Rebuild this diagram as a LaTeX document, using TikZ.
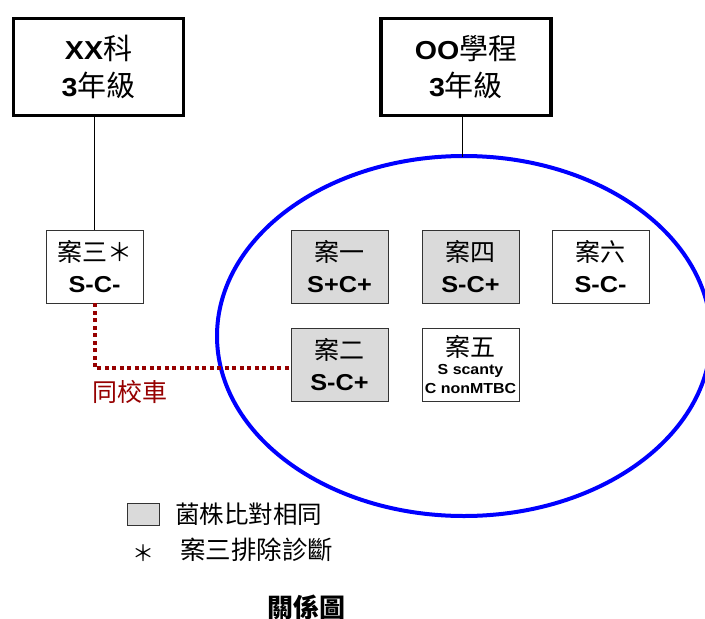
\documentclass[tikz,border=0pt]{standalone}
\usepackage{fontspec}
\setmainfont{Liberation Sans}[FakeStretch=1.1]
\newfontfamily\cjk{Noto Sans CJK TC}
\definecolor{stip}{RGB}{218,218,218}
\definecolor{darkred}{RGB}{150,0,0}
\begin{document}
\begin{tikzpicture}[x=1pt,y=-1pt,
  topbox/.style={draw, line width=3.5pt, minimum width=170pt, minimum height=97pt, inner sep=0pt, align=center, font=\fontsize{26}{37}\selectfont\bfseries},
  casebox/.style={draw=black!80, line width=0.8pt, minimum width=97pt, minimum height=73pt, inner sep=0pt, align=center, font=\fontsize{23}{31}\selectfont\bfseries},
  shaded/.style={casebox, fill=stip}
]
\useasboundingbox (0,0) rectangle (705,619);
\node[topbox] (xx) at (98.5,67) {XX{\cjk\mdseries\fontsize{29}{37}\selectfont 科}\\3{\cjk\mdseries\fontsize{29}{37}\selectfont 年級}};
\node[topbox] (oo) at (466,67) {OO{\cjk\mdseries\fontsize{29}{37}\selectfont 學程}\\3{\cjk\mdseries\fontsize{29}{37}\selectfont 年級}};
\draw[blue, line width=4pt] (464,336) ellipse [x radius=247, y radius=180];
\coordinate (etop) at (462,157);
\node[casebox] (c3) at (94.5,266.5) {{\cjk\mdseries\fontsize{25}{31}\selectfont 案三＊}\\S-C-};
\node[shaded] (c1) at (339.5,266.5) {{\cjk\mdseries\fontsize{25}{31}\selectfont 案一}\\S+C+};
\node[shaded] (c4) at (470.5,266.5) {{\cjk\mdseries\fontsize{25}{31}\selectfont 案四}\\S-C+};
\node[casebox] (c6) at (600.5,266.5) {{\cjk\mdseries\fontsize{25}{31}\selectfont 案六}\\S-C-};
\node[shaded] (c2) at (339.5,365) {{\cjk\mdseries\fontsize{25}{31}\selectfont 案二}\\S-C+};
\node[casebox, font=\fontsize{14.5}{19}\selectfont\bfseries] (c5) at (470.5,365) {{\cjk\mdseries\fontsize{25}{26}\selectfont 案五}\\[-1pt]S scanty\\C nonMTBC};
\draw[line width=0.6pt] (xx.south -| c3.north) -- (c3.north);
\draw[line width=0.6pt] (oo.south -| etop) -- (etop);
\coordinate (bend) at (94.5,368);
\draw[darkred, line width=4pt, dash pattern=on 4pt off 3.5pt] (c3.south) -- (bend) -- (bend -| c2.west);
\node[text=darkred, font=\cjk\fontsize{25}{28}\selectfont, anchor=west, inner sep=0pt] (tong) at (92,392) {同校車};
\node[draw=black!80, fill=stip, minimum width=32pt, minimum height=22pt, inner sep=0pt] (sw) at (143.5,514) {};
\node[font=\cjk\fontsize{24.5}{28}\selectfont, anchor=west, inner sep=0pt] (l1) at (175,514) {菌株比對相同};
\node[font=\cjk\fontsize{22}{24}\selectfont, inner sep=0pt] (st) at (143.5,553) {＊};
\node[font=\cjk\fontsize{25.5}{28}\selectfont, anchor=west, inner sep=0pt] (l2) at (180,550) {案三排除診斷};
\node[font=\cjk\fontsize{26}{28}\selectfont\bfseries, inner sep=0pt] (title) at (306,607) {關係圖};
\end{tikzpicture}
\end{document}
